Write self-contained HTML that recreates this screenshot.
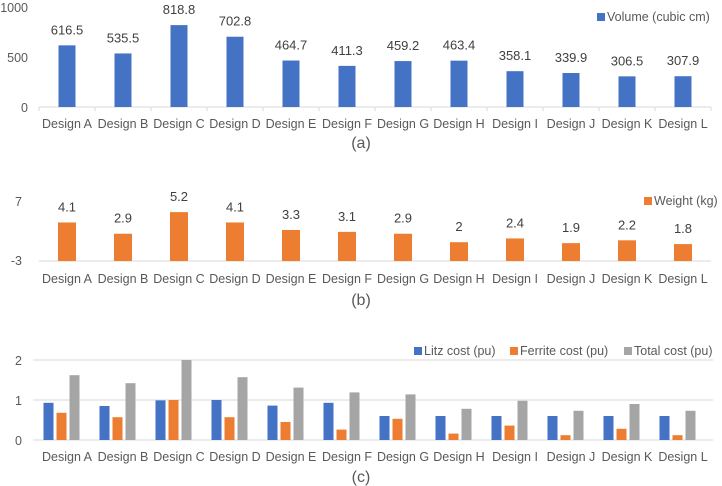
<!DOCTYPE html>
<html><head><meta charset="utf-8"><style>
html,body{margin:0;padding:0;background:#fff;}
svg{display:block;font-family:"Liberation Sans",sans-serif;}
</style></head><body>
<svg id="c" width="722" height="486" viewBox="0 0 722 486"></svg>
<script>
const categories=["Design A","Design B","Design C","Design D","Design E","Design F","Design G","Design H","Design I","Design J","Design K","Design L"];
const volume=[616.5,535.5,818.8,702.8,464.7,411.3,459.2,463.4,358.1,339.9,306.5,307.9];
const weight=[4.1,2.9,5.2,4.1,3.3,3.1,2.9,2,2.4,1.9,2.2,1.8];
const litz=[0.93,0.85,0.99,1.0,0.86,0.93,0.6,0.6,0.6,0.6,0.6,0.6];
const ferrite=[0.68,0.57,1.0,0.57,0.45,0.26,0.53,0.16,0.36,0.12,0.28,0.12];
const total=[1.62,1.42,2.0,1.57,1.31,1.19,1.14,0.78,0.98,0.73,0.9,0.73];
const ticksA=["0","500","1000"];
const ticksB=["-3","7"];
const ticksC=["0","1","2"];
const svg=document.getElementById('c');
const NS='http://www.w3.org/2000/svg';
function mk(t,a,txt){const e=document.createElementNS(NS,t);for(const k in a)e.setAttribute(k,a[k]);if(txt!==undefined)e.textContent=txt;svg.appendChild(e);return e;}
const x0=39,cw=56;
const xc=i=>x0+cw*(i+0.5);
const BLUE='#4472c4',OR='#ed7d31',GR='#a5a5a5',TX='#595959';
// chart a
const yA=v=>107-v*0.1;
let e=mk('line',{x1:x0,x2:x0+cw*12,y1:107,y2:107,stroke:'#d9d9d9'});

for(let i=0;i<=12;i++){const t=mk('line',{x1:x0+cw*i,x2:x0+cw*i,y1:107,y2:111,stroke:'#d9d9d9'});
}
ticksA.forEach(t=>{const el=mk('text',{x:28,y:yA(+t)+5,'text-anchor':'end','font-size':12.5,fill:TX},t);
});
volume.forEach((v,i)=>{
 const r=mk('rect',{x:xc(i)-8.5,y:yA(v),width:17,height:v*0.1,fill:BLUE});
 
 const l=mk('text',{x:xc(i),y:yA(v)-11,'text-anchor':'middle','font-size':13,fill:'#404040'},String(v));
 
 const c=mk('text',{x:xc(i),y:128,'text-anchor':'middle','font-size':12.5,fill:TX},categories[i]);
 
});
e=mk('rect',{x:597,y:13,width:8,height:8,fill:BLUE});
e=mk('text',{x:607,y:21,'font-size':12.5,fill:TX},'Volume (cubic cm)');
e=mk('text',{x:361,y:148,'text-anchor':'middle','font-size':16,fill:TX},'(a)');
// chart b
const yB=v=>261-v*9.4;
e=mk('line',{x1:x0,x2:x0+cw*12,y1:261,y2:261,stroke:'#d9d9d9'});
[[ticksB[0],265],[ticksB[1],206]].forEach(p=>{const el=mk('text',{x:22,y:p[1],'text-anchor':'end','font-size':12.5,fill:TX},p[0]);
});
weight.forEach((v,i)=>{
 const r=mk('rect',{x:xc(i)-9,y:yB(v),width:18,height:v*9.4,fill:OR});
 
 const l=mk('text',{x:xc(i),y:yB(v)-11,'text-anchor':'middle','font-size':13,fill:'#404040'},String(v));
 
 const c=mk('text',{x:xc(i),y:283,'text-anchor':'middle','font-size':12.5,fill:TX},categories[i]);
 
});
e=mk('rect',{x:644,y:197,width:8,height:8,fill:OR});
e=mk('text',{x:654,y:205,'font-size':12.5,fill:TX},'Weight (kg)');
e=mk('text',{x:361,y:305,'text-anchor':'middle','font-size':16,fill:TX},'(b)');
// chart c
const yC=v=>440-v*40;
ticksC.forEach(t=>{
 const g=mk('line',{x1:33,x2:713,y1:yC(+t),y2:yC(+t),stroke:'#d9d9d9'});
 
 const el=mk('text',{x:22,y:yC(+t)+5,'text-anchor':'end','font-size':12.5,fill:TX},t);
 
});
const series=[[litz,BLUE,'bar-litz'],[ferrite,OR,'bar-ferrite'],[total,GR,'bar-total']];
categories.forEach((cat,i)=>{
 series.forEach((s,j)=>{
  const v=s[0][i];
  const r=mk('rect',{x:xc(i)-23.5+j*13,y:yC(v),width:10,height:v*40,fill:s[1]});
  
 });
 const c=mk('text',{x:xc(i),y:461,'text-anchor':'middle','font-size':12.5,fill:TX},cat);
 
});
[[414,'Litz cost (pu)',BLUE],[510,'Ferrite cost (pu)',OR],[624,'Total cost (pu)',GR]].forEach(p=>{
 const s=mk('rect',{x:p[0],y:347,width:8,height:8,fill:p[2]});
 
 const t=mk('text',{x:p[0]+10,y:355,'font-size':12.5,fill:TX},p[1]);
 
});
e=mk('text',{x:361,y:482,'text-anchor':'middle','font-size':16,fill:TX},'(c)');
</script>
</body></html>
